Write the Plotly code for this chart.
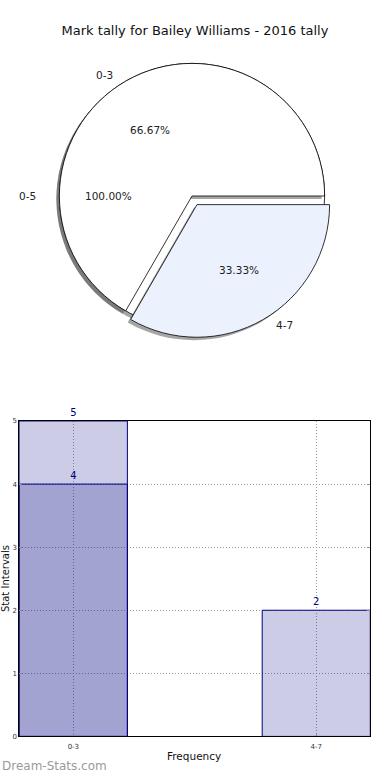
import math
import plotly.graph_objects as go

W, H = 390, 780

# ---- data ----
title_text = "Mark tally for Bailey Williams - 2016 tally"
pie_outer_labels = ["0-5"]
pie_outer_values = [5]
pie_inner_labels = ["0-3", "4-7"]
pie_inner_values = [4, 2]
pie_inner_pull = [0.0, 0.075]

bar_categories = ["0-3", "4-7"]
bar_series_a = [5, 2]      # first overlaid series
bar_series_b = [4, None]   # second overlaid series
y_ticks = [0, 1, 2, 3, 4, 5]

FONT = "DejaVu Sans"


def px(x):
    return x / W


def py(y):
    return 1 - y / H


# ---- pie geometry (pixels) ----
cx, cy = 192, 194
r = 134
maxpull = max(pie_inner_pull)
shadow_dx, shadow_dy = -3, 3


def dom(cx_, cy_, half):
    return dict(x=[px(cx_ - half), px(cx_ + half)],
                y=[py(cy_ + half), py(cy_ - half)])


def rot(values):
    # first slice starts at 3 o'clock and runs counterclockwise
    return 90 - 360 * values[0] / sum(values)


fig = go.Figure()

shadow_color = "rgba(77,77,77,0.5)"
fig.add_trace(go.Pie(labels=pie_outer_labels, values=pie_outer_values, sort=False,
                     direction="counterclockwise", rotation=rot(pie_outer_values),
                     marker=dict(colors=[shadow_color], line=dict(width=0)),
                     textinfo="none", hoverinfo="skip",
                     domain=dom(cx + shadow_dx, cy + shadow_dy, r)))
fig.add_trace(go.Pie(labels=pie_outer_labels, values=pie_outer_values, sort=False,
                     direction="counterclockwise", rotation=rot(pie_outer_values),
                     marker=dict(colors=["white"], line=dict(color="black", width=0.8)),
                     textinfo="none", hoverinfo="skip",
                     domain=dom(cx, cy, r)))
fig.add_trace(go.Pie(labels=pie_inner_labels, values=pie_inner_values, sort=False,
                     direction="counterclockwise", rotation=rot(pie_inner_values),
                     pull=pie_inner_pull,
                     marker=dict(colors=[shadow_color, shadow_color], line=dict(width=0)),
                     textinfo="none", hoverinfo="skip",
                     domain=dom(cx + shadow_dx, cy + shadow_dy, r * (1 + maxpull))))
fig.add_trace(go.Pie(labels=pie_inner_labels, values=pie_inner_values, sort=False,
                     direction="counterclockwise", rotation=rot(pie_inner_values),
                     pull=pie_inner_pull,
                     marker=dict(colors=["white", "#ebf1fd"], line=dict(color="black", width=0.8)),
                     textinfo="none", hoverinfo="skip",
                     domain=dom(cx, cy, r * (1 + maxpull))))

annotations = []
rx_t, ry_t = 140, 128


def pie_texts(labels, values, pulls):
    tot = sum(values)
    start = 0.0
    for lab, v, p in zip(labels, values, pulls):
        frac = v / tot
        mid = math.radians(start + frac * 360 / 2)
        ox = cx + r * p * math.cos(mid)
        oy = cy - r * p * math.sin(mid)
        lx = ox + 1.1 * rx_t * math.cos(mid)
        ly = oy - 1.1 * ry_t * math.sin(mid)
        tx = ox + 0.6 * rx_t * math.cos(mid)
        ty = oy - 0.6 * ry_t * math.sin(mid)
        annotations.append(dict(x=px(lx), y=py(ly), xref="paper", yref="paper",
                                text=lab, showarrow=False,
                                xanchor="right" if math.cos(mid) < -1e-9 else "left",
                                yanchor="middle",
                                font=dict(family=FONT, size=10.5, color="#222")))
        annotations.append(dict(x=px(tx), y=py(ty), xref="paper", yref="paper",
                                text=f"{frac * 100:.2f}%", showarrow=False,
                                xanchor="center", yanchor="middle",
                                font=dict(family=FONT, size=10.5, color="#222")))
        start += frac * 360


pie_texts(pie_outer_labels, pie_outer_values, [0.0])
pie_texts(pie_inner_labels, pie_inner_values, pie_inner_pull)

# ---- bars ----
xs = list(range(len(bar_categories)))
bar_w = 0.445
bar_fill = "rgba(0,0,128,0.2)"
for series in (bar_series_a, bar_series_b):
    bx = [x for x, v in zip(xs, series) if v is not None]
    by = [v for v in series if v is not None]
    fig.add_trace(go.Bar(x=bx, y=by, width=bar_w, text=[str(v) for v in by],
                         textposition="outside", cliponaxis=False,
                         textfont=dict(family=FONT, size=10, color="#000080"),
                         marker=dict(color=bar_fill, line=dict(color="#000080", width=1)),
                         hoverinfo="skip", xaxis="x", yaxis="y"))

ax_left, ax_right, ax_top, ax_bot = 19.3, 370.3, 421.3, 740
grid_dash = "1px,2px"

fig.update_layout(
    width=W, height=H,
    margin=dict(l=0, r=0, t=0, b=0),
    paper_bgcolor="white", plot_bgcolor="white",
    showlegend=False,
    barmode="overlay",
    title=dict(text=title_text, x=0.5, xanchor="center", y=py(30), yanchor="middle",
               yref="container", font=dict(family=FONT, size=13, color="#111")),
    xaxis=dict(domain=[px(ax_left), px(ax_right)], range=[-bar_w / 2, xs[-1] + bar_w / 2],
               tickvals=xs, ticktext=bar_categories,
               showgrid=True, gridcolor="#9a9a9a", griddash=grid_dash, gridwidth=1,
               showline=True, linecolor="black", linewidth=1, mirror=True,
               ticks="inside", ticklen=3, tickcolor="#888", ticklabelstandoff=3,
               tickfont=dict(family=FONT, size=7, color="#333"), zeroline=False),
    yaxis=dict(domain=[py(ax_bot), py(ax_top)], range=[0, 5],
               tickvals=y_ticks,
               showgrid=True, gridcolor="#9a9a9a", griddash=grid_dash, gridwidth=1,
               showline=True, linecolor="black", linewidth=1, mirror="ticks",
               ticks="inside", ticklen=3, tickcolor="#888",
               tickfont=dict(family=FONT, size=7, color="#333"), zeroline=False),
)

annotations.append(dict(x=px(5), y=py(581), xref="paper", yref="paper", text="Stat Intervals",
                        textangle=-90, showarrow=False, xanchor="center", yanchor="middle",
                        font=dict(family=FONT, size=10, color="#111")))
annotations.append(dict(x=px(194), y=py(760), xref="paper", yref="paper", text="Frequency",
                        showarrow=False, xanchor="center", yanchor="middle",
                        font=dict(family=FONT, size=10.5, color="#111")))
annotations.append(dict(x=px(0), y=py(770), xref="paper", yref="paper", text="Dream-Stats.com",
                        showarrow=False, xanchor="left", yanchor="middle",
                        font=dict(family=FONT, size=12, color="#9a9a9a")))
fig.update_layout(annotations=annotations)

fig.write_html("out.html", config={"displayModeBar": False},
               post_script="document.body.style.margin='0';document.body.style.overflow='hidden';")
